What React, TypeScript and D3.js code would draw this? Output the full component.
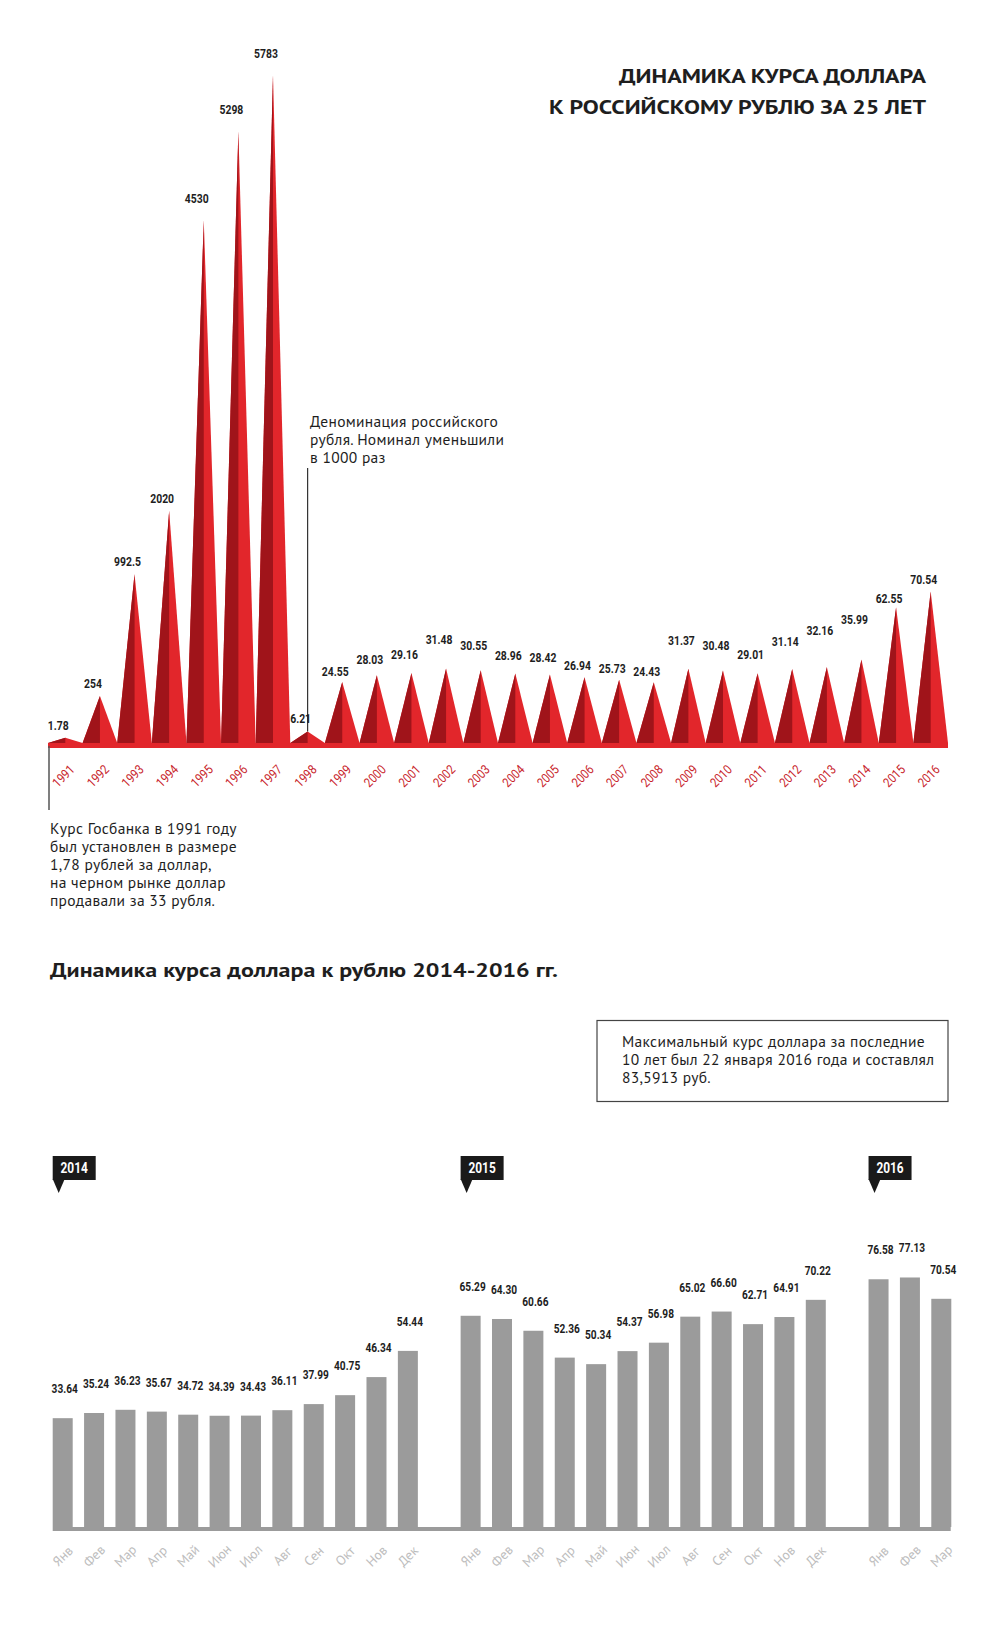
import React from 'react';
import * as d3 from 'd3';

// ---------- Data: yearly rate (RUB per USD) ----------
const years = ['1991','1992','1993','1994','1995','1996','1997','1998','1999','2000','2001','2002','2003','2004','2005','2006','2007','2008','2009','2010','2011','2012','2013','2014','2015','2016'];
const yearRates = [1.78, 254, 992.5, 2020, 4530, 5298, 5783, 6.21, 24.55, 28.03, 29.16, 31.48, 30.55, 28.96, 28.42, 26.94, 25.73, 24.43, 31.37, 30.48, 29.01, 31.14, 32.16, 35.99, 62.55, 70.54];
const oldRubleYears = 7; // 1991–1997 in pre-denomination rubles

// ---------- Data: monthly rate 2014–2016 ----------
const months = ['Янв','Фев','Мар','Апр','Май','Июн','Июл','Авг','Сен','Окт','Нов','Дек'];
const monthYears = ['2014', '2015', '2016'];
const rates2014 = [33.64, 35.24, 36.23, 35.67, 34.72, 34.39, 34.43, 36.11, 37.99, 40.75, 46.34, 54.44];
const rates2015 = [65.29, 64.30, 60.66, 52.36, 50.34, 54.37, 56.98, 65.02, 66.60, 62.71, 64.91, 70.22];
const rates2016 = [76.58, 77.13, 70.54];

// ---------- Text ----------
const titleLines = ['ДИНАМИКА КУРСА ДОЛЛАРА', 'К РОССИЙСКОМУ РУБЛЮ ЗА 25 ЛЕТ'];
const denomNote = ['Деноминация российского', 'рубля. Номинал уменьшили', 'в 1000 раз'];
const note1991 = ['Курс Госбанка в 1991 году', 'был установлен в размере', '1,78 рублей за доллар,', 'на черном рынке доллар', 'продавали за 33 рубля.'];
const subTitle = 'Динамика курса доллара к рублю 2014-2016 гг.';
const boxNote = ['Максимальный курс доллара за последние', '10 лет был 22 января 2016 года и составлял', '83,5913 руб.'];

const W = 997;
const H = 1627;
const SANS = "'PT Sans', 'Noto Sans', 'Open Sans', sans-serif";
const NARROW = "Roboto, 'Liberation Sans', sans-serif";
const DARK_RED = '#a0141a';
const RED = '#e2262b';
const YEAR_RED = '#c8242b';
const GRAY = '#9b9b9b';
const TEXT = '#1e1e1e';

const fmtTop = (v: number) => (v >= 100 ? String(v) : v.toFixed(2));
const fmt2 = d3.format('.2f');

// condensed text: horizontal squeeze of a regular face
function NText(props: { x: number; y: number; rot?: number; sx?: number; children: React.ReactNode; [k: string]: any }) {
  const { x, y, rot = 0, sx = 0.8, children, ...rest } = props;
  return (
    <text transform={`translate(${x},${y}) rotate(${rot}) scale(${sx},1)`} {...rest}>{children}</text>
  );
}

export default function App() {
  // ---- top chart scales ----
  const base = 743;
  const x = d3.scaleBand<string>().domain(years).range([48, 948]).padding(0);
  const bw = x.bandwidth();
  const hOld = d3.scaleLinear().domain([0, 1000, 2000, 6000]).range([5, 170, 230, 693]);
  const hNew = d3.scaleLinear().domain([0, 6, 20, 80]).range([1, 11, 52, 170]);
  const labelNew = d3.scaleLinear().domain([24, 27, 29, 31.4, 32.2, 36, 62.55, 72]).range([673, 665, 655, 640, 630, 619, 598, 576]);

  const peaks = years.map((y, i) => {
    const v = yearRates[i];
    const h = i < oldRubleYears ? hOld(v) : hNew(v);
    const left = x(y)!;
    const cx = left + bw / 2;
    const py = base - h;
    const ly = i >= oldRubleYears && v >= 20 ? labelNew(v) + 4.5 : py - (h > 400 ? 17 : 8);
    return { y, v, h, left, cx, right: left + bw, py, ly };
  });
  const p1998 = peaks[years.indexOf('1998')];
  const p1991 = peaks[0];

  // ---- bottom chart scales ----
  const groups = [rates2014, rates2015, rates2016];
  type Slot = { slot: number; m: string; v: number; g: number };
  const slots: Slot[] = [];
  let s = 0;
  groups.forEach((arr, g) => {
    arr.forEach((v, i) => slots.push({ slot: s + i, m: months[i], v, g }));
    s += arr.length + 1;
  });
  const nSlots = s - 1;
  const xb = d3.scaleBand<number>().domain(d3.range(nSlots)).range([52.7, 951.3]).paddingInner(0.3627).paddingOuter(0);
  const bbw = xb.bandwidth();
  const bBase = 1527;
  const yb = d3.scaleLinear().domain([0, 80]).range([bBase, bBase - 3.235 * 80]);
  const groupStart = monthYears.map((_, g) => slots.find((d) => d.g === g)!.slot);

  return (
    <svg width={W} height={H} viewBox={`0 0 ${W} ${H}`} style={{ position: 'absolute', left: 0, top: 0, background: '#fff' }}>
      <rect x={0} y={0} width={W} height={H} fill="#fff" />

      {/* Title */}
      <g fontFamily={SANS} fontWeight={700} fontSize={20} fill={TEXT} textAnchor="end">
        <text x={926} y={83} textLength={307} lengthAdjust="spacingAndGlyphs">{titleLines[0]}</text>
        <text x={926} y={114} textLength={377} lengthAdjust="spacingAndGlyphs">{titleLines[1]}</text>
      </g>

      {/* Triangles */}
      <g>
        {peaks.map((p) => (
          <g key={p.y}>
            <path d={`M${p.left},${base}L${p.cx},${p.py}L${p.right},${base}Z`} fill={RED} />
            <path d={`M${p.left},${base}L${p.cx},${p.py}L${p.cx},${base}Z`} fill={DARK_RED} />
          </g>
        ))}
        <rect x={48} y={base} width={900} height={5} fill={RED} />
      </g>

      {/* Annotation lines */}
      <line x1={p1998.cx} x2={p1998.cx} y1={468} y2={p1998.py} stroke="#333" strokeWidth={1.2} />
      <line x1={p1991.left + 1} x2={p1991.left + 1} y1={base + 3} y2={810} stroke="#555" strokeWidth={1.5} />

      {/* Value labels */}
      <g fontFamily={NARROW} fontWeight={700} fontSize={13} fill={TEXT} textAnchor="middle">
        {peaks.map((p) => (
          <NText key={p.y} x={p.cx - 7} y={p.ly} sx={0.8}>{fmtTop(p.v)}</NText>
        ))}
      </g>

      {/* Year labels */}
      <g fontFamily={NARROW} fontSize={13} fill={YEAR_RED} textAnchor="middle">
        {peaks.map((p) => (
          <NText key={p.y} x={p.cx - 2} y={776} rot={-45} sx={0.85} dy="0.35em">{p.y}</NText>
        ))}
      </g>

      {/* Notes */}
      <g fontFamily={SANS} fontSize={15.5} letterSpacing={0.3} fill={TEXT}>
        {denomNote.map((t, i) => (
          <text key={t} x={310} y={427 + i * 18}>{t}</text>
        ))}
        {note1991.map((t, i) => (
          <text key={t} x={50} y={834 + i * 18}>{t}</text>
        ))}
      </g>

      {/* Subtitle */}
      <text x={50} y={977} fontFamily={SANS} fontWeight={700} fontSize={20} fill={TEXT} textLength={508} lengthAdjust="spacingAndGlyphs">{subTitle}</text>

      {/* Box */}
      <rect x={597} y={1020.5} width={351} height={81} fill="none" stroke="#444" strokeWidth={1.2} />
      <g fontFamily={SANS} fontSize={15.5} letterSpacing={0.3} fill={TEXT}>
        {boxNote.map((t, i) => (
          <text key={t} x={622} y={1047 + i * 18}>{t}</text>
        ))}
      </g>

      {/* Year flags */}
      {monthYears.map((yr, g) => {
        const fx = xb(groupStart[g])!;
        return (
          <g key={yr}>
            <rect x={fx} y={1156} width={43} height={24} fill="#1a1a1a" />
            <path d={`M${fx},1179L${fx + 12},1179L${fx + 6},1193Z`} fill="#1a1a1a" />
            <NText x={fx + 21.5} y={1172.5} sx={0.85} textAnchor="middle" fontFamily={NARROW} fontWeight={700} fontSize={14} fill="#fff">{yr}</NText>
          </g>
        );
      })}

      {/* Bars */}
      <g>
        {slots.map((d) => (
          <rect key={d.slot} x={xb(d.slot)!} y={yb(d.v)} width={bbw} height={bBase - yb(d.v)} fill={GRAY} />
        ))}
        <rect x={52.7} y={bBase} width={898} height={4} fill={GRAY} />
      </g>

      {/* Bar labels */}
      <g fontFamily={NARROW} fontWeight={700} fontSize={13} fill={TEXT} textAnchor="middle">
        {slots.map((d) => (
          <NText key={d.slot} x={xb(d.slot)! + bbw / 2 + 2} y={yb(d.v) - 25} sx={0.78}>{fmt2(d.v)}</NText>
        ))}
      </g>

      {/* Month labels */}
      <g fontFamily={SANS} fontSize={13.5} fill="#bdbdbd" textAnchor="middle">
        {slots.map((d) => (
          <text key={d.slot} transform={`translate(${xb(d.slot)! + bbw / 2},${1556}) rotate(-45)`} dy="0.35em">{d.m}</text>
        ))}
      </g>
    </svg>
  );
}
